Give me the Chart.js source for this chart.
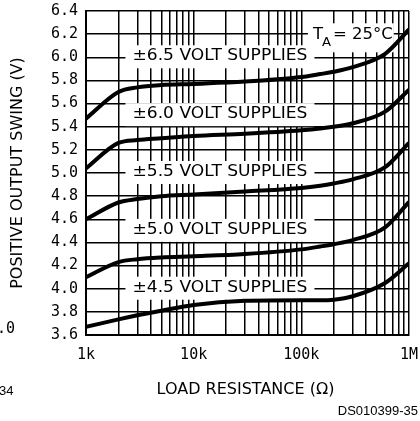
<!DOCTYPE html>
<html>
<head>
<meta charset="utf-8">
<script src="https://cdn.jsdelivr.net/npm/chart.js@4.4.0/dist/chart.umd.min.js"></script>
<style>
  html, body { margin: 0; padding: 0; background: #fff; }
</style>
</head>
<body>
<canvas id="chart1" width="420" height="421"></canvas>
<script>
// dados
const resistencias = [1e3, 2e3, 3e3, 5e3, 1e4, 3e4, 1e5, 1.5e5, 2e5, 3e5, 6e5, 1e6];
const swing65 = [5.47, 5.70, 5.74, 5.76, 5.77, 5.79, 5.83, 5.855, 5.875, 5.915, 6.03, 6.24];
const swing60 = [5.04, 5.26, 5.285, 5.30, 5.32, 5.34, 5.37, 5.385, 5.40, 5.43, 5.53, 5.72];
const swing55 = [4.60, 4.745, 4.775, 4.80, 4.815, 4.84, 4.87, 4.89, 4.91, 4.945, 5.05, 5.26];
const swing50 = [4.10, 4.23, 4.255, 4.27, 4.28, 4.30, 4.34, 4.365, 4.385, 4.42, 4.53, 4.75];
const swing45 = [3.67, 3.735, 3.77, 3.81, 3.86, 3.895, 3.90, 3.90, 3.905, 3.935, 4.05, 4.22];

// rotulos das curvas
const supplyLabels = ['±6.5 VOLT SUPPLIES', '±6.0 VOLT SUPPLIES', '±5.5 VOLT SUPPLIES', '±5.0 VOLT SUPPLIES', '±4.5 VOLT SUPPLIES'];
const supplyLabelY = [6.0, 5.5, 5.0, 4.5, 4.0];
const supplyLabelX = 2700;

// eixos
const xGrid = [1e3, 2e3, 3e3, 4e3, 5e3, 6e3, 7e3, 8e3, 9e3,
               1e4, 2e4, 3e4, 4e4, 5e4, 6e4, 7e4, 8e4, 9e4,
               1e5, 2e5, 3e5, 4e5, 5e5, 6e5, 7e5, 8e5, 9e5, 1e6];
const xMajor = [1e3, 1e4, 1e5, 1e6];
const xMajorLabels = ['1k', '10k', '100k', '1M'];
const yTicks = [3.6, 3.8, 4.0, 4.2, 4.4, 4.6, 4.8, 5.0, 5.2, 5.4, 5.6, 5.8, 6.0, 6.2, 6.4];

const xTitle = 'LOAD RESISTANCE (Ω)';
const yTitle = 'POSITIVE OUTPUT SWING (V)';
const figCode = 'DS010399-35';

const FONT = '"DejaVu Sans"';
const TICK_FONT = { family: 'DejaVu Sans Mono', size: 15 };
const LABEL_W = 175; // largura dos rotulos no original

// texto esticado na horizontal (a fonte do original e mais larga)
function wideText(c, txt, x, y, sx) {
  c.save();
  c.translate(x, y);
  c.scale(sx, 1);
  c.fillText(txt, 0, 0);
  c.restore();
}

// caixas brancas com os textos, desenhadas por cima da grade
const rotulos = {
  id: 'rotulos',
  beforeDatasetsDraw(chart) {
    const c = chart.ctx;
    const xs = chart.scales.x;
    const ys = chart.scales.y;
    c.save();
    c.font = '15px ' + FONT;
    c.textBaseline = 'middle';
    c.textAlign = 'left';

    supplyLabels.forEach((txt, i) => {
      const px = xs.getPixelForValue(supplyLabelX);
      const py = ys.getPixelForValue(supplyLabelY[i]);
      const sx = LABEL_W / c.measureText(txt).width;
      c.fillStyle = '#fff';
      c.fillRect(px - 7, py - 12, LABEL_W + 14, 23);
      c.fillStyle = '#000';
      wideText(c, txt, px, py - 1, sx);
    });

    // T_A = 25°C
    const sx = 1.1;
    const tx = xs.getPixelForValue(128000);
    const ty = ys.getPixelForValue(6.19);
    c.font = '15px ' + FONT;
    const wT = c.measureText('T').width * sx;
    const wRest = c.measureText('= 25°C').width * sx;
    c.font = '12px ' + FONT;
    const wA = c.measureText('A').width * sx;
    c.fillStyle = '#fff';
    c.fillRect(tx - 5, ty - 12, wT + wA + wRest + 7, 29);
    c.fillStyle = '#000';
    c.font = '15px ' + FONT;
    wideText(c, 'T', tx, ty, sx);
    wideText(c, '= 25°C', tx + wT + wA + 1, ty, sx);
    c.font = '12px ' + FONT;
    wideText(c, 'A', tx + wT - 1, ty + 8, sx);
    c.restore();
  },
  afterDraw(chart) {
    const c = chart.ctx;
    const a = chart.chartArea;
    c.save();
    c.fillStyle = '#000';
    c.font = '16px ' + FONT;
    c.textAlign = 'center';
    c.textBaseline = 'middle';
    c.fillText(xTitle, (a.left + a.right) / 2 - 2, a.bottom + 55);

    c.save();
    c.translate(18, (a.top + a.bottom) / 2);
    c.rotate(-Math.PI / 2);
    c.fillText(yTitle, 0, 0);
    c.restore();

    c.font = '13px "Liberation Sans"';
    c.textAlign = 'right';
    c.fillText(figCode, 418, 411);

    // restos da figura vizinha na borda esquerda
    c.textAlign = 'left';
    c.fillText('34', -1, 391);
    c.font = '15px "DejaVu Sans Mono"';
    c.fillText('.0', -3, 329);
    c.restore();
  }
};

function serie(valores) {
  return {
    data: resistencias.map((r, i) => ({ x: r, y: valores[i] })),
    borderColor: '#000',
    borderWidth: 4,
    pointRadius: 0,
    fill: false,
    cubicInterpolationMode: 'monotone'
  };
}

const ctx1 = document.getElementById('chart1').getContext('2d');
new Chart(ctx1, {
  type: 'line',
  data: {
    datasets: [serie(swing65), serie(swing60), serie(swing55), serie(swing50), serie(swing45)]
  },
  options: {
    responsive: false,
    animation: false,
    devicePixelRatio: 1,
    layout: { padding: { top: 11, right: 11, left: 0, bottom: 0 } },
    plugins: { legend: { display: false }, tooltip: { enabled: false } },
    scales: {
      x: {
        type: 'logarithmic',
        min: 1000,
        max: 1e6,
        afterBuildTicks: s => { s.ticks = xGrid.map(v => ({ value: v })); },
        afterFit: s => { s.height = 86; s.paddingLeft = 0; s.paddingRight = 0; },
        ticks: {
          autoSkip: false,
          maxRotation: 0,
          padding: 11,
          color: '#000',
          font: TICK_FONT,
          callback: v => {
            const i = xMajor.indexOf(v);
            return i >= 0 ? xMajorLabels[i] : '';
          }
        },
        grid: { color: '#000', lineWidth: 1.5, drawTicks: false },
        border: { color: '#000', width: 2 }
      },
      y: {
        type: 'linear',
        min: 3.6,
        max: 6.4,
        afterBuildTicks: s => { s.ticks = yTicks.map(v => ({ value: v })); },
        afterFit: s => { s.width = 86; s.paddingTop = 0; s.paddingBottom = 0; },
        ticks: {
          padding: 8,
          color: '#000',
          font: TICK_FONT,
          callback: v => v.toFixed(1)
        },
        grid: { color: '#000', lineWidth: 1.5, drawTicks: false },
        border: { color: '#000', width: 2 }
      }
    }
  },
  plugins: [rotulos]
});
</script>
</body>
</html>
